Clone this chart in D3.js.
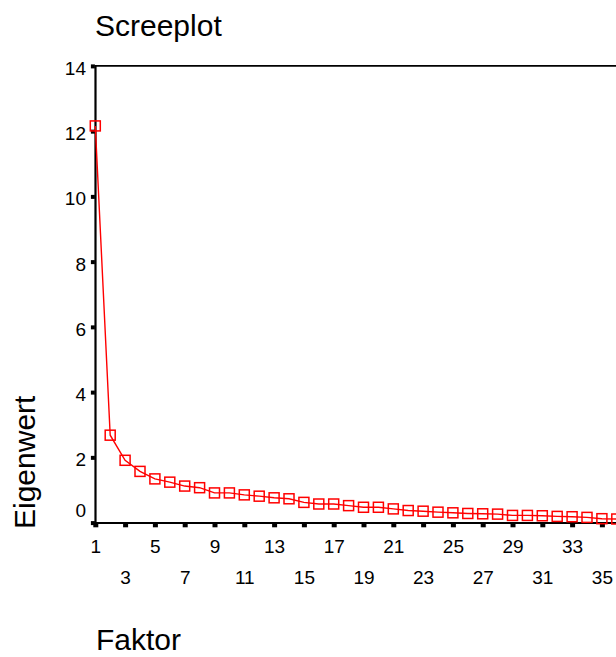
<!DOCTYPE html>
<html>
<head>
<meta charset="utf-8">
<script src="https://cdn.jsdelivr.net/npm/d3@7"></script>
<style>
  html, body { margin: 0; padding: 0; background: #fff; overflow: hidden; }
  svg { display: block; }
  text { font-family: "Liberation Sans", Arial, sans-serif; fill: #000; }
</style>
</head>
<body>
<svg id="chart" width="616" height="657"></svg>
<script>
// Factor numbers and their eigenvalues (scree plot)
const factors = [1,2,3,4,5,6,7,8,9,10,11,12,13,14,15,16,17,18,19,20,21,22,23,24,25,26,27,28,29,30,31,32,33,34,35,36];
const eigenvalues = [12.16,2.68,1.91,1.57,1.34,1.24,1.12,1.07,0.91,0.91,0.85,0.81,0.76,0.73,0.62,0.57,0.57,0.52,0.47,0.47,0.42,0.37,0.35,0.32,0.30,0.28,0.27,0.26,0.22,0.22,0.21,0.19,0.18,0.16,0.12,0.11];
const yTicks = [0,2,4,6,8,10,12,14];
const xTicks = [1,3,5,7,9,11,13,15,17,19,21,23,25,27,29,31,33,35];

const titleText = "Screeplot";
const yTitle = "Eigenwert";
const xTitle = "Faktor";

const svg = d3.select("#chart");

// Plot extends past the right edge of the view
const x = d3.scaleLinear().domain([1, 41]).range([95.3, 95.3 + 40 * 14.9]);
const y = d3.scaleLinear().domain([0, 14]).range([522.6, 65.9]);
const axisX0 = 95.5;   // position of vertical axis line
const axisY0 = 523;    // position of horizontal axis line

// Title
svg.append("text").attr("x", 95).attr("y", 36)
  .style("font-size", "30px").text(titleText);

// Top frame line
svg.append("line")
  .attr("x1", axisX0).attr("x2", x(41))
  .attr("y1", y(14)).attr("y2", y(14))
  .attr("stroke", "#000").attr("stroke-width", 1.6);

// Y axis
const gy = svg.append("g").attr("transform", `translate(${axisX0},0)`)
  .call(d3.axisLeft(y).tickValues(yTicks).tickSize(0).tickPadding(9.5));
gy.select(".domain").attr("stroke", "#000").attr("stroke-width", 2.2)
  .attr("d", `M0,${axisY0 + 1}V${y(14) - 0.8}`);
gy.selectAll(".tick text")
  .style("font-size", "19px")
  .attr("font-family", null)
  .attr("dy", d => d === 0 ? "-0.3em" : "0.44em");
gy.selectAll(".tick").append("rect")
  .attr("x", -4.6).attr("y", -2).attr("width", 4).attr("height", 4)
  .attr("fill", "#000");

// X axis
const gx = svg.append("g").attr("transform", `translate(0,${axisY0})`)
  .call(d3.axisBottom(x).tickValues(xTicks).tickSize(0).tickPadding(0));
gx.select(".domain").attr("stroke", "#000").attr("stroke-width", 2.2)
  .attr("d", `M${axisX0 - 1},0H${x(41)}`);
gx.selectAll(".tick text")
  .style("font-size", "19px")
  .attr("font-family", null)
  .attr("dy", null)
  .attr("y", (d, i) => i % 2 === 0 ? 30 : 60.5);
gx.selectAll(".tick").append("rect")
  .attr("x", -2.5).attr("y", 0).attr("width", 5).attr("height", 4.3)
  .attr("fill", "#000");

// Axis titles
svg.append("text")
  .attr("transform", "translate(34.5,529) rotate(-90)")
  .style("font-size", "30px").text(yTitle);
svg.append("text").attr("x", 96).attr("y", 650)
  .style("font-size", "30px").text(xTitle);

// Eigenvalue line and markers
const pts = factors.map((f, i) => ({ f, v: eigenvalues[i] }));
svg.append("path")
  .datum(pts)
  .attr("fill", "none").attr("stroke", "#ff0000").attr("stroke-width", 1.4)
  .attr("d", d3.line().x(d => x(d.f)).y(d => y(d.v)));

const ms = 10;
svg.append("g").selectAll("rect").data(pts).join("rect")
  .attr("x", d => x(d.f) - ms / 2).attr("y", d => y(d.v) - ms / 2)
  .attr("width", ms).attr("height", ms)
  .attr("fill", "none").attr("stroke", "#ff0000").attr("stroke-width", 1.5);
</script>
</body>
</html>
